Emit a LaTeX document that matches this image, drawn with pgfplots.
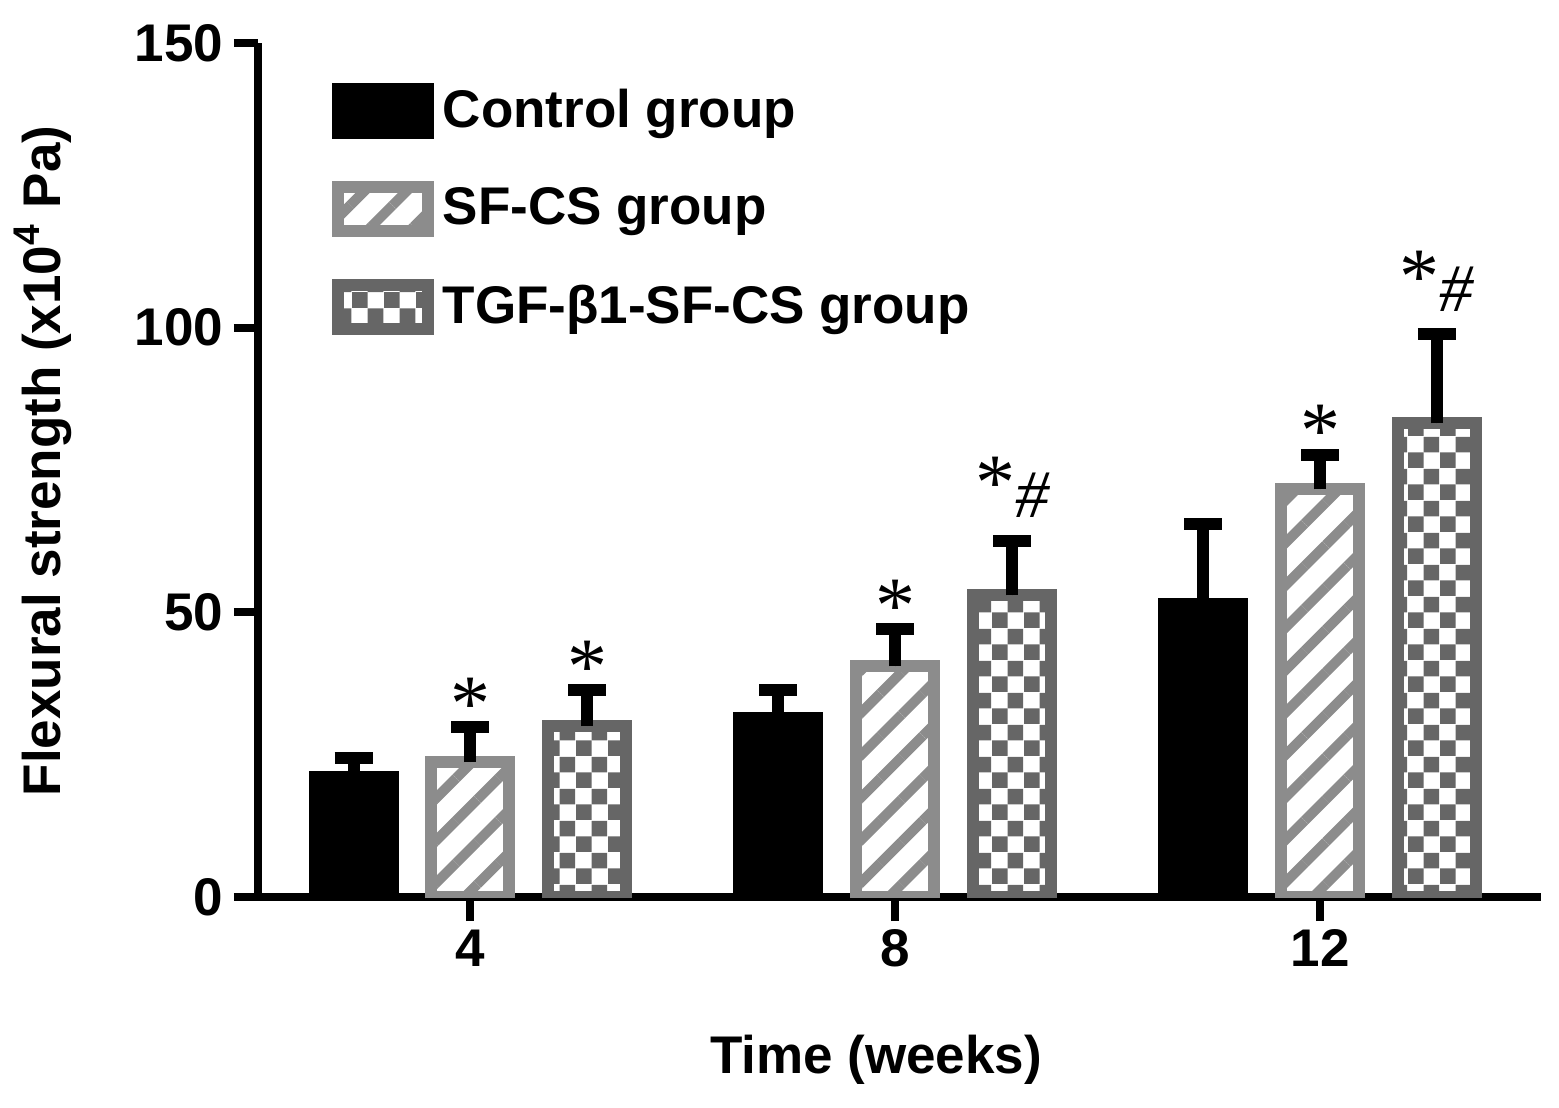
\documentclass[border=0pt]{standalone}
\usepackage{fontspec}
\setmainfont{Liberation Sans}
\newfontfamily\serifstar{Liberation Serif}
\usepackage{pgfplots}
\pgfplotsset{compat=1.18}
\usetikzlibrary{patterns,patterns.meta}

\definecolor{sfgray}{HTML}{8C8C8C}
\definecolor{tgfgray}{HTML}{666666}

\tikzdeclarepattern{
  name=bigchecker,
  type=uncolored,
  bounding box={(0pt,0pt) and (8pt,8pt)},
  tile size={(8pt,8pt)},
  code={
    \fill (0pt,0pt) rectangle (4pt,4pt);
    \fill (4pt,4pt) rectangle (8pt,8pt);
  }
}

\newcommand{\lblfont}{\bfseries\fontsize{13.25}{15}\selectfont}
\newcommand{\lonestar}{{\serifstar\fontsize{20}{20}\selectfont *}}
\newcommand{\starhash}{{\serifstar\fontsize{20}{20}\selectfont\raisebox{2pt}{*}}{\serifstar\fontsize{17}{17}\selectfont\itshape\#}}

\pgfplotstableread{
x y e
2.9 21.1 3.3
6.9 31.4 4.9
10.9 51.4 14.2
}\control
\pgfplotstableread{
x y e
4 23.7 6.1
8 40.5 6.5
12 71.6 6.1
}\sfcs
\pgfplotstableread{
x y e
5.1 30.0 6.3
9.1 53.0 9.6
13.1 83.2 15.7
}\tgf

\begin{document}
\begin{tikzpicture}
\path[use as bounding box] (-64.5pt,-52.5pt) rectangle (325.25pt,224.25pt);
\begin{axis}[
  at={(0pt,0pt)}, anchor=south west,
  scale only axis, width=320.75pt, height=213.5pt,
  xmin=2, xmax=14.08, ymin=0, ymax=150,
  axis lines=left,
  axis line style={-, line width=2pt, black},
  xtick={4,8,12}, ytick={0,50,100,150},
  tick align=outside,
  major tick length=6pt,
  tick style={line width=2pt, black},
  tick label style={font=\lblfont},
  /pgf/number format/assume math mode=true,
  yticklabel style={inner sep=2.5pt},
  xticklabel style={inner sep=2pt},
  label style={font=\lblfont},
  xlabel={Time (weeks)},
  ylabel={Flexural strength (x10\textsuperscript{4} Pa)},
  xlabel style={at={(axis description cs:0.4817,-0.2061)}, anchor=base},
  ylabel style={at={(axis description cs:-0.1543,0.5105)}, anchor=base},
  mybar/.style={ybar, bar width=0.735, bar shift=0pt, line width=3pt,
    legend image code/.code={\draw[##1, line width=3pt] (0pt,-5.5pt) rectangle (22.5pt,5.5pt);}},
  legend style={at={(axis description cs:0.0569,0.9543)}, anchor=north west,
    draw=none, fill=none, inner sep=0pt, row sep=10.5pt, column sep=2.25pt,
    font=\lblfont, nodes={inner sep=0pt}},
  legend cell align=left,
  error bars/y dir=plus,
  error bars/y explicit,
  error bars/error bar style={line width=3pt, black},
  error bars/error mark options={rotate=90, line width=3pt, black, mark size=4.75pt},
]
\addplot[mybar, draw=black, fill=black] table[x=x, y=y, y error plus=e] {\control};
\addlegendentry{Control group}
\addplot[mybar, draw=sfgray, pattern={Lines[angle=45,distance=7.5pt,line width=2.5pt]}, pattern color=sfgray] table[x=x, y=y, y error plus=e] {\sfcs};
\addlegendentry{SF-CS group}
\addplot[mybar, draw=tgfgray, pattern=bigchecker, pattern color=tgfgray] table[x=x, y=y, y error plus=e] {\tgf};
\addlegendentry{TGF-β1-SF-CS group}

\node[anchor=base] at (axis cs:4,29.3) {\lonestar};
\node[anchor=base] at (axis cs:5.1,35.8) {\lonestar};
\node[anchor=base] at (axis cs:8,46.5) {\lonestar};
\node[anchor=base] at (axis cs:12,77.2) {\lonestar};
\node[anchor=base] at (axis cs:9.1,66.6) {\starhash};
\node[anchor=base] at (axis cs:13.1,102.9) {\starhash};
\end{axis}
\end{tikzpicture}
\end{document}
